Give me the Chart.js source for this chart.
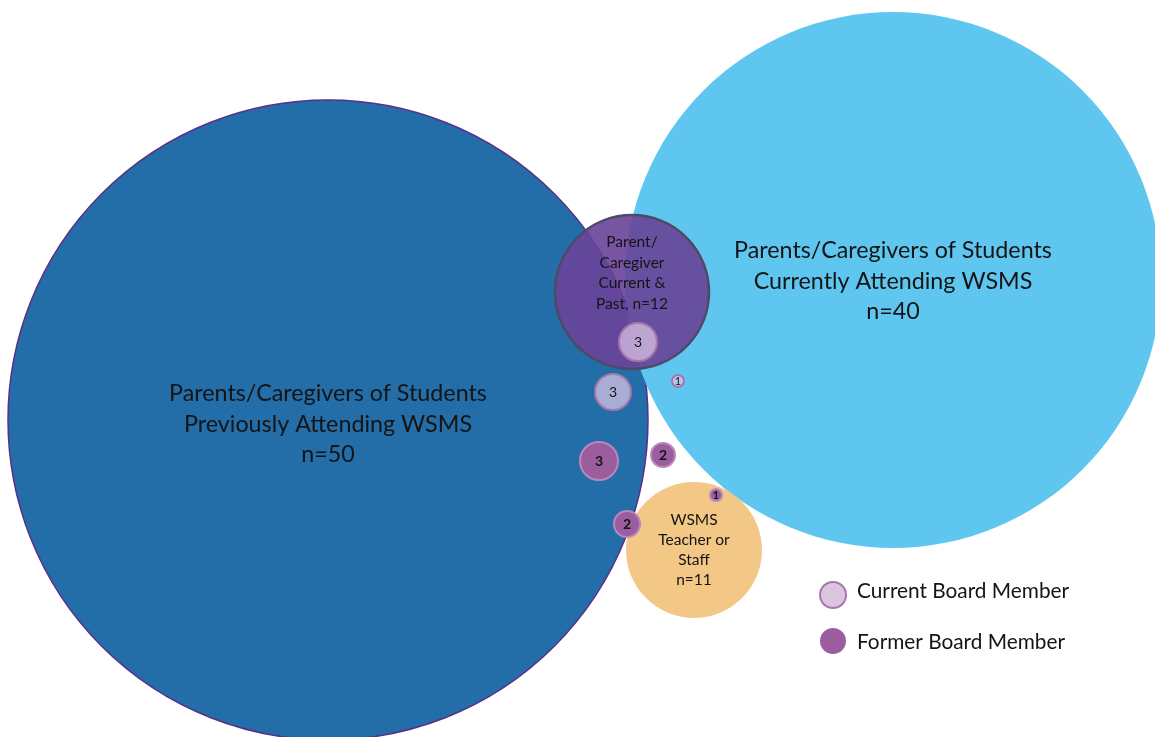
<!DOCTYPE html>
<html>
<head>
<meta charset="utf-8">
<script src="https://cdn.jsdelivr.net/npm/chart.js@4"></script>
<style>
  html, body { margin: 0; padding: 0; background: #ffffff; }
  #wrap { width: 1155px; height: 737px; }
</style>
</head>
<body>
<div id="wrap"><canvas id="chartCanvas" width="1155" height="737"></canvas></div>
<script>
// group circles (diagram units, y grows downward)
const groupLabels = [
  ['Parents/Caregivers of Students', 'Previously Attending WSMS', 'n=50'],
  ['Parents/Caregivers of Students', 'Currently Attending WSMS', 'n=40'],
  ['WSMS', 'Teacher or', 'Staff', 'n=11'],
  ['Parent/', 'Caregiver', 'Current &', 'Past, n=12']
];
const groupN = [50, 40, 11, 12];
const groupX = [328, 893, 694, 632];
const groupY = [420, 280, 550, 292];
const groupR = [320, 268, 68, 77];

// board members inside / between the groups
const currentCount = [3, 3, 1];
const currentX = [638, 613, 678];
const currentY = [342, 392, 381];
const currentR = [19, 18, 6];

const formerCount = [3, 2, 1, 2];
const formerX = [599, 663, 716, 627];
const formerY = [461, 455, 495, 524];
const formerR = [19, 12, 6, 13];

const legendLabels = ['Current Board Member', 'Former Board Member'];

const groupFill = ['#236ea8', '#5fc7ef', '#f3c886', 'rgba(105,66,152,0.9)'];
const groupBorder = ['#5a2f86', '#5fc7ef', '#f3c886', '#4d4a66'];
const groupBorderW = [1.5, 0, 0, 2.5];
const currentFill = 'rgba(222,198,228,0.72)', currentBorder = '#a676ad';
const formerFill = '#9c5d9e', formerBorder = '#b888bb';

function pts(xs, ys, rs) { return xs.map((x, i) => ({ x: x, y: ys[i], r: rs[i] })); }

const textPlugin = {
  id: 'bubbleText',
  afterDatasetsDraw(c) {
    const ctx = c.ctx;
    ctx.save();
    ctx.textAlign = 'center'; ctx.textBaseline = 'middle'; ctx.fillStyle = '#141414';
    // group labels
    const gm = c.getDatasetMeta(0);
    const gFont = [23.3, 23.3, 15.5, 15.5], gLine = [30.5, 30.5, 20, 20.5], gShift = [4, 1, 0, -19];
    gm.data.forEach((el, i) => {
      const lines = groupLabels[i];
      ctx.font = gFont[i] + 'px Lato, "Liberation Sans", sans-serif';
      const top = el.y + gShift[i] - (lines.length - 1) * gLine[i] / 2;
      lines.forEach((t, k) => ctx.fillText(t, el.x, top + k * gLine[i]));
    });
    // counts
    [[1, currentCount, false], [2, formerCount, true]].forEach(([di, counts, bold]) => {
      c.getDatasetMeta(di).data.forEach((el, i) => {
        const r = el.options.radius;
        const fs = r < 10 ? 11 : 14;
        ctx.font = (bold ? 'bold ' : '') + fs + 'px Lato, "Liberation Sans", sans-serif';
        ctx.fillText(String(counts[i]), el.x, el.y + 0.5);
      });
    });
    // legend
    const xs = c.scales.x, ys = c.scales.y;
    const lx = xs.getPixelForValue(833);
    [[595, 591, '#dcc6df', currentBorder, 13], [641, 642, formerFill, formerFill, 12]].forEach(([yv, ty, f, b, r], i) => {
      const ly = ys.getPixelForValue(yv);
      ctx.beginPath(); ctx.arc(lx, ly, r, 0, Math.PI * 2);
      ctx.fillStyle = f; ctx.fill();
      ctx.lineWidth = 2; ctx.strokeStyle = b; ctx.stroke();
      ctx.fillStyle = '#141414'; ctx.textAlign = 'left';
      ctx.font = '20.8px Lato, "Liberation Sans", sans-serif';
      ctx.fillText(legendLabels[i], lx + 24, ys.getPixelForValue(ty));
    });
    ctx.restore();
  }
};

const chart = new Chart(document.getElementById('chartCanvas').getContext('2d'), {
  type: 'bubble',
  data: {
    datasets: [
      { label: 'Groups', data: pts(groupX, groupY, groupR), backgroundColor: groupFill, borderColor: groupBorder, borderWidth: groupBorderW, order: 3, clip: false },
      { label: legendLabels[0], data: pts(currentX, currentY, currentR), backgroundColor: currentFill, borderColor: currentBorder, borderWidth: 2, order: 2 },
      { label: legendLabels[1], data: pts(formerX, formerY, formerR), backgroundColor: formerFill, borderColor: formerBorder, borderWidth: 2, order: 1 }
    ]
  },
  options: {
    responsive: false, animation: false,
    layout: { padding: 0, autoPadding: false },
    plugins: { legend: { display: false }, tooltip: { enabled: false } },
    scales: {
      x: { type: 'linear', min: 0, max: 1155, display: false },
      y: { type: 'linear', min: 0, max: 737, reverse: true, display: false }
    }
  },
  plugins: [textPlugin]
});
</script>
</body>
</html>
